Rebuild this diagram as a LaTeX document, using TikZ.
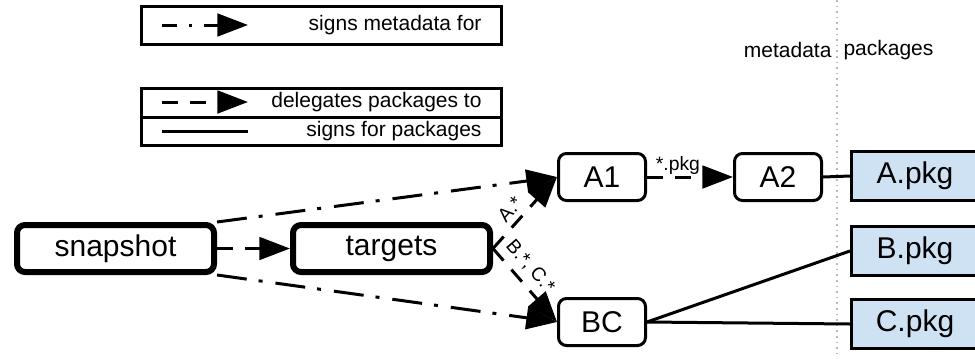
\documentclass[tikz,border=0pt]{standalone}
\usepackage{fontspec}
\setmainfont{Liberation Sans}
\usetikzlibrary{arrows.meta}
\definecolor{pkgblue}{RGB}{207,226,243}
\tikzset{every picture/.style={line width=0.75pt}}

\begin{document}
\begin{tikzpicture}[x=0.75pt,y=0.75pt,yscale=-1,xscale=1,
	role/.style={draw, rounded corners=6pt, line width=2.25pt, inner sep=0pt,
		minimum width=65.25pt, minimum height=35.25pt, font=\fontsize{22.5}{24}\selectfont},
	toprole/.style={role, line width=4.5pt, minimum width=147.75pt},
	pkg/.style={draw, fill=pkgblue, line width=2.25pt, inner sep=0pt,
		minimum width=95.25pt, minimum height=36.75pt, font=\fontsize{22.5}{24}\selectfont},
	tip/.style={-{Triangle[length=23pt,width=17pt]}},
	signsmeta/.style={tip, line width=2.25pt, dash pattern=on 22.5pt off 9pt on 3pt off 9.75pt},
	delegates/.style={tip, line width=2.25pt, dash pattern=on 12pt off 9pt},
	signspkg/.style={line width=2.25pt},
	keytext/.style={anchor=east, inner sep=0pt, font=\fontsize{15.75}{18}\selectfont},
	edgelabel/.style={inner sep=1pt, font=\fontsize{14.5}{16}\selectfont}
	]
	\clip (0,0) rectangle (975,358);

	% key
	\draw [line width=2.25pt] (141,6) rectangle (501,44);
	\draw [line width=2.25pt] (141,88) rectangle (501,145);
	\draw [line width=2.25pt] (141,117) -- (501,117);
	\coordinate (k1a) at (162,25);
	\coordinate (k1b) at (248,25);
	\coordinate (k2a) at (162,102);
	\coordinate (k2b) at (248,102);
	\coordinate (k3a) at (162,131);
	\coordinate (k3b) at (248,131);
	\draw [signsmeta, dash pattern=on 11.25pt off 9pt on 2.25pt off 9pt] (k1a) -- (k1b);
	\draw [delegates] (k2a) -- (k2b);
	\draw [signspkg] (k3a) -- (k3b);
	\node [keytext] (k1) at (482,25) {signs metadata for};
	\node [keytext] (k2) at (482,102) {delegates packages to};
	\node [keytext] (k3) at (482,131) {signs for packages};

	% metadata / packages divider
	\coordinate (divtop) at (837,0);
	\coordinate (divbot) at (837,358);
	\draw [color=black!28, line width=1.2pt, dash pattern=on 1.2pt off 3pt] (divtop) -- (divbot);
	\node [keytext] (metalbl) at (832,50) {metadata};
	\node [keytext, anchor=west] (pkglbl) at (843,50) {packages};

	% roles
	\node [toprole] (snapshot) at (115.5,248.5) {snapshot};
	\node [toprole] (targets) at (391.5,248.5) {targets};
	\node [role] (A1) at (602,177) {A1};
	\node [role] (A2) at (778,177) {A2};
	\node [role] (BC) at (602,322) {BC};

	% packages
	\node [pkg] (Apkg) at (915,176) {A.pkg};
	\node [pkg] (Bpkg) at (915,251) {B.pkg};
	\node [pkg] (Cpkg) at (915,324) {C.pkg};

	% signing and delegation
	\draw [signsmeta] (snapshot.north east) -- (A1.west);
	\draw [signsmeta] (snapshot.south east) -- (BC.west);
	\draw [delegates] (snapshot.east) -- (targets.west);
	\draw [delegates] (targets.east) -- node [edgelabel, rotate=48, above=3pt, pos=0.42] {A.*} (A1.west);
	\draw [delegates] (targets.east) -- node [edgelabel, rotate=-49, above=4pt, pos=0.39] {B.*, C.*} (BC.west);
	\draw [delegates] (A1.east) -- node [edgelabel, above, pos=0.36] {*.pkg} (A2.west);
	\draw [signspkg] (A2.east) -- (Apkg.west);
	\draw [signspkg] (BC.east) -- (Bpkg.west);
	\draw [signspkg] (BC.east) -- (Cpkg.west);

\end{tikzpicture}
\end{document}
